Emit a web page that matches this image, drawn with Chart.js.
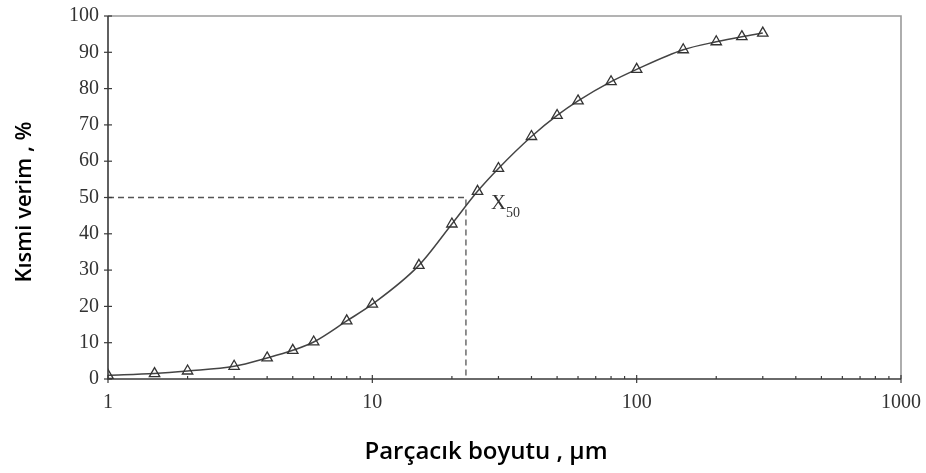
<!DOCTYPE html>
<html>
<head>
<meta charset="utf-8">
<script src="https://cdn.jsdelivr.net/npm/chart.js@4.4.1/dist/chart.umd.min.js"></script>
<style>
  html, body { margin: 0; padding: 0; background: #fff; }
  #wrap { width: 926px; height: 473px; }
</style>
</head>
<body>
<div id="wrap"><canvas id="c" width="926" height="473"></canvas></div>
<script>
// Particle size (µm) and partial yield (%)
const sizes = [1, 1.5, 2, 3, 4, 5, 6, 8, 10, 15, 20, 25, 30, 40, 50, 60, 80, 100, 150, 200, 250, 300];
const partialYield = [1.0, 1.5, 2.2, 3.5, 5.8, 7.9, 10.2, 16.0, 20.6, 31.3, 42.7, 51.7, 58.0, 66.8, 72.6, 76.6, 81.9, 85.3, 90.7, 92.9, 94.3, 95.3];

// Cut size x50 (size at 50 % yield)
const x50Size = 22.6;
const x50Yield = 50;

// Axis tick labels
const xTickValues = [1, 10, 100, 1000];
const yTickValues = [0, 10, 20, 30, 40, 50, 60, 70, 80, 90, 100];

const xTitle = 'Parçacık boyutu , µm';
const yTitle = 'Kısmi verim , %';

const curvePoints = sizes.map((s, i) => ({ x: s, y: partialYield[i] }));
const guidePoints = [
  { x: xTickValues[0], y: x50Yield },
  { x: x50Size, y: x50Yield },
  { x: x50Size, y: 0 }
];

const serif = '"Liberation Serif", "Times New Roman", serif';
const sans = '"Open Sans", "Liberation Sans", sans-serif';

// Frame, tick marks, axis titles and the x50 annotation
const decorPlugin = {
  id: 'decor',
  afterDraw(chart) {
    const { ctx, chartArea: a, scales } = chart;
    const xs = scales.x, ys = scales.y;
    ctx.save();

    // light top and right frame
    ctx.strokeStyle = '#9a9a9a';
    ctx.lineWidth = 1.6;
    ctx.beginPath();
    ctx.moveTo(a.left, a.top);
    ctx.lineTo(a.right, a.top);
    ctx.lineTo(a.right, a.bottom);
    ctx.stroke();

    // dark left and bottom axes
    ctx.strokeStyle = '#3a3a3a';
    ctx.lineWidth = 1.6;
    ctx.beginPath();
    ctx.moveTo(a.left, a.top);
    ctx.lineTo(a.left, a.bottom);
    ctx.lineTo(a.right, a.bottom);
    ctx.stroke();

    // y ticks crossing the axis
    ctx.lineWidth = 1.2;
    yTickValues.forEach(v => {
      const py = ys.getPixelForValue(v);
      ctx.beginPath();
      ctx.moveTo(a.left - 4, py);
      ctx.lineTo(a.left + 4, py);
      ctx.stroke();
    });

    // x ticks: majors cross the axis, minors point inward
    const lo = Math.log10(xTickValues[0]);
    const hi = Math.log10(xTickValues[xTickValues.length - 1]);
    for (let e = lo; e < hi; e++) {
      for (let d = 1; d <= 9; d++) {
        const v = d * Math.pow(10, e);
        const px = xs.getPixelForValue(v);
        ctx.beginPath();
        if (d === 1) {
          ctx.moveTo(px, a.bottom - 4);
          ctx.lineTo(px, a.bottom + 4);
        } else {
          ctx.moveTo(px, a.bottom - 3);
          ctx.lineTo(px, a.bottom);
        }
        ctx.stroke();
      }
    }
    const pEnd = xs.getPixelForValue(xTickValues[xTickValues.length - 1]);
    ctx.beginPath();
    ctx.moveTo(pEnd, a.bottom - 4);
    ctx.lineTo(pEnd, a.bottom + 4);
    ctx.stroke();

    // x50 annotation
    const ax = xs.getPixelForValue(x50Size);
    const ay = ys.getPixelForValue(x50Yield);
    ctx.fillStyle = '#333';
    ctx.textBaseline = 'alphabetic';
    ctx.textAlign = 'left';
    ctx.font = '21px ' + serif;
    ctx.fillText('X', ax + 25, ay + 11);
    const w = ctx.measureText('X').width;
    ctx.font = '14px ' + serif;
    ctx.fillText('50', ax + 25 + w, ay + 19);

    // axis titles
    ctx.fillStyle = '#000';
    ctx.textAlign = 'center';
    ctx.textBaseline = 'middle';
    ctx.font = '600 24px ' + sans;
    ctx.fillText(xTitle, 486, 452);
    ctx.save();
    ctx.font = '600 22px ' + sans;
    ctx.translate(25, 202);
    ctx.rotate(-Math.PI / 2);
    ctx.fillText(yTitle, 0, 0);
    ctx.restore();

    ctx.restore();
  }
};

// keep the plot box fixed: no extra room reserved for edge labels
const noEdgePadding = s => {
  s.paddingLeft = 0; s.paddingRight = 0; s.paddingTop = 0; s.paddingBottom = 0;
};

new Chart(document.getElementById('c'), {
  type: 'scatter',
  data: {
    datasets: [
      {
        label: 'x50',
        data: guidePoints,
        showLine: true,
        borderColor: '#555',
        borderWidth: 1.3,
        borderDash: [6, 4],
        pointRadius: 0,
        tension: 0,
        order: 2
      },
      {
        label: yTitle,
        data: curvePoints,
        showLine: true,
        borderColor: '#444',
        borderWidth: 1.5,
        cubicInterpolationMode: 'monotone',
        pointStyle: 'triangle',
        pointRadius: 6,
        pointBorderWidth: 1.3,
        pointBorderColor: '#333',
        pointBackgroundColor: 'rgba(255,255,255,0)',
        order: 1
      }
    ]
  },
  options: {
    responsive: false,
    animation: false,
    layout: { padding: { top: 16, right: 25, bottom: 0, left: 0 } },
    plugins: { legend: { display: false }, tooltip: { enabled: false } },
    scales: {
      x: {
        type: 'logarithmic',
        min: xTickValues[0],
        max: xTickValues[xTickValues.length - 1],
        afterFit: s => { s.height = 94; noEdgePadding(s); },
        afterBuildTicks: s => { s.ticks = xTickValues.map(v => ({ value: v })); },
        grid: { display: false, drawTicks: false },
        border: { display: false },
        ticks: {
          color: '#333',
          font: { family: serif, size: 20 },
          padding: 12,
          maxRotation: 0,
          autoSkip: false,
          callback: v => String(v)
        }
      },
      y: {
        type: 'linear',
        min: yTickValues[0],
        max: yTickValues[yTickValues.length - 1],
        afterFit: s => { s.width = 108; noEdgePadding(s); },
        afterBuildTicks: s => { s.ticks = yTickValues.map(v => ({ value: v })); },
        grid: { display: false, drawTicks: false },
        border: { display: false },
        ticks: {
          color: '#333',
          font: { family: serif, size: 20 },
          padding: 9,
          callback: v => String(v)
        }
      }
    }
  },
  plugins: [decorPlugin]
});
</script>
</body>
</html>
